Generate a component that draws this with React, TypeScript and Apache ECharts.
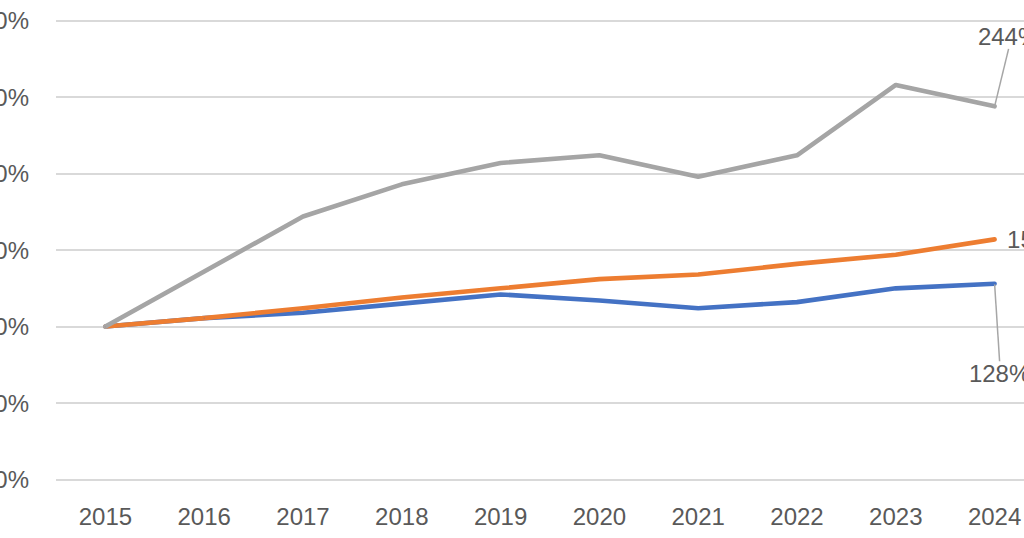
import React, { useEffect, useRef } from "react";
import * as echarts from "echarts";

const years = ["2015", "2016", "2017", "2018", "2019", "2020", "2021", "2022", "2023", "2024"];
const blueValues = [100, 105.5, 109, 115, 121, 117, 112, 116, 125, 128];
const orangeValues = [100, 105.5, 112, 119, 125, 131, 134, 141, 147, 157];
const grayValues = [100, 136, 172, 193, 207, 212, 198, 212, 258, 244];

const yMin = 0;
const yMax = 300;
const yStep = 50;

const TEXT = "#595959";
const FONT = "Liberation Sans";

function withEndLabel(values: number[]) {
  return values.map((v, i) =>
    i === values.length - 1 ? { value: v, label: { show: true } } : v
  );
}

export default function App() {
  const ref = useRef<HTMLDivElement>(null);

  useEffect(() => {
    if (!ref.current) return;
    const chart = echarts.init(ref.current, undefined, { renderer: "svg" });
    const labelBase = {
      color: TEXT,
      fontFamily: FONT,
      fontSize: 24,
      formatter: "{c}%",
    };
    const mkSeries = (
      name: string,
      color: string,
      values: number[],
      label: any,
      layout: any,
      lineShow: boolean
    ) => ({
      name,
      type: "line",
      data: withEndLabel(values),
      showSymbol: true,
      symbol: "circle",
      symbolSize: 1,
      itemStyle: { color },
      lineStyle: { color, width: 4.6, cap: "round", join: "round" },
      label: { show: false, ...labelBase, ...label },
      labelLine: { show: lineShow, lineStyle: { color: "#a6a6a6", width: 1.5 } },
      labelLayout: layout,
      emphasis: { disabled: true },
      z: 2,
    });
    chart.setOption({
      animation: false,
      backgroundColor: "#ffffff",
      grid: { left: 96, right: 56, top: 20.7, bottom: 58.5, containLabel: false },
      xAxis: {
        type: "category",
        data: years,
        boundaryGap: true,
        axisLine: { show: false },
        axisTick: { show: false },
        axisLabel: { color: TEXT, fontFamily: FONT, fontSize: 24, margin: 25 },
        splitLine: { show: false },
      },
      yAxis: {
        type: "value",
        min: yMin,
        max: yMax,
        interval: yStep,
        axisLine: { show: false },
        axisTick: { show: false },
        axisLabel: {
          color: TEXT,
          fontFamily: FONT,
          fontSize: 24,
          margin: 27,
          formatter: "{value}%",
        },
        splitLine: { show: true, lineStyle: { color: "#d9d9d9", width: 2 } },
      },
      series: [
        mkSeries("blue", "#4472C4", blueValues, { position: "bottom", distance: 5 }, { dx: 5, dy: 72 }, true),
        mkSeries("orange", "#ED7D31", orangeValues, { position: "right", distance: 12 }, undefined, false),
        mkSeries("gray", "#A5A5A5", grayValues, { position: "top", distance: 5 }, { dx: 14, dy: -52 }, true),
      ],
    });
    return () => chart.dispose();
  }, []);

  return (
    <div
      style={{
        position: "fixed",
        left: 0,
        top: 0,
        width: 1024,
        height: 538,
        overflow: "hidden",
        background: "#ffffff",
      }}
    >
      <div
        ref={ref}
        style={{ position: "absolute", left: -40, top: 0, width: 1140, height: 538 }}
      />
    </div>
  );
}
